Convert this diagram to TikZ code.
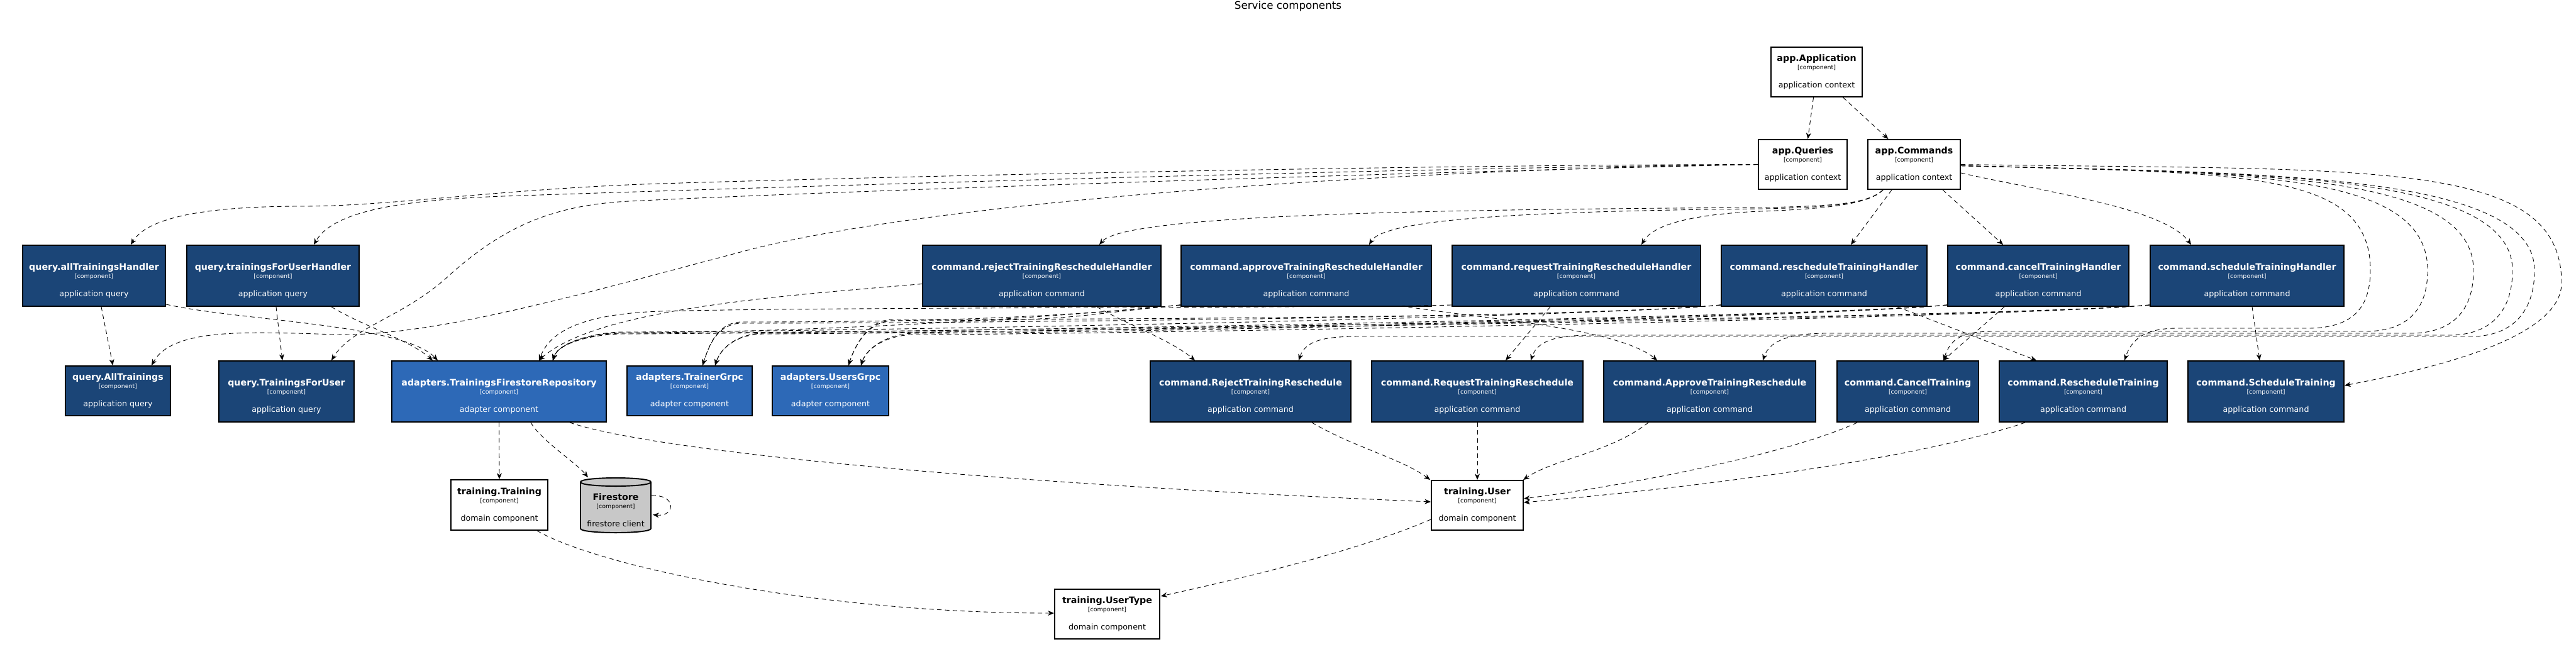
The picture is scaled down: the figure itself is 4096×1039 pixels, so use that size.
\documentclass[tikz,border=0pt]{standalone}
\usepackage{fontspec}
\setmainfont{DejaVu Sans}
\usetikzlibrary{
    arrows.meta,
    calc
}

\definecolor{handlerblue}{HTML}{1B4577}
\definecolor{adapterblue}{HTML}{2D69B7}
\definecolor{storegray}{HTML}{C8C8C8}

\newcommand{\namefont}{\fontsize{8.1}{9}\bfseries}
\newcommand{\tagfont}{\fontsize{5.4}{6}\selectfont}
% text of a low box and of a tall box
\newcommand{\comp}[2]{{\namefont #1}\\{\tagfont [component]}\\[9pt]#2}
\newcommand{\compt}[2]{{\namefont\rule{0pt}{15pt}#1}\\{\tagfont [component]}\\[9pt]#2}

\begin{document}
\begin{tikzpicture}[x=0.02cm, y=-0.02cm,
    compbox/.style={draw=black, line width=1.1pt, inner sep=0pt, align=center,
        font=\fontsize{7.2}{7.5}\selectfont},
    ctx/.style={compbox, fill=white},
    handler/.style={compbox, fill=handlerblue, text=white},
    adapter/.style={compbox, fill=adapterblue, text=white},
    dep/.style={dashed, dash pattern=on 4pt off 3pt, line width=0.5pt,
        -{Stealth[length=5.5pt,width=4.5pt,inset=1.6pt]}}
]

\useasboundingbox (0,0) rectangle (4096,1039);

% Title
\node[font=\fontsize{9.5}{11}\selectfont] (title) at (2048,10) {Service components};

% Application context
\node[ctx, minimum width=2.90cm, minimum height=1.58cm] (appctx) at (2888.5,114.5) {\comp{app.Application}{application context}};
\node[ctx, minimum width=2.82cm, minimum height=1.58cm] (queries) at (2866.5,261.5) {\comp{app.Queries}{application context}};
\node[ctx, minimum width=2.94cm, minimum height=1.58cm] (commands) at (3043.5,261.5) {\comp{app.Commands}{application context}};

% Query handlers
\node[handler, minimum width=4.54cm, minimum height=1.94cm] (qAllH) at (149.5,438.5) {\compt{query.allTrainingsHandler}{application query}};
\node[handler, minimum width=5.48cm, minimum height=1.94cm] (qForUserH) at (434,438.5) {\compt{query.trainingsForUserHandler}{application query}};

% Command handlers
\node[handler, minimum width=7.58cm, minimum height=1.94cm] (rejH) at (1656.5,438.5) {\compt{command.rejectTrainingRescheduleHandler}{application command}};
\node[handler, minimum width=7.96cm, minimum height=1.94cm] (apprH) at (2077,438.5) {\compt{command.approveTrainingRescheduleHandler}{application command}};
\node[handler, minimum width=7.90cm, minimum height=1.94cm] (reqH) at (2506.5,438.5) {\compt{command.requestTrainingRescheduleHandler}{application command}};
\node[handler, minimum width=6.54cm, minimum height=1.94cm] (reschH) at (2900.5,438.5) {\compt{command.rescheduleTrainingHandler}{application command}};
\node[handler, minimum width=5.76cm, minimum height=1.94cm] (cancelH) at (3241,438.5) {\compt{command.cancelTrainingHandler}{application command}};
\node[handler, minimum width=6.16cm, minimum height=1.94cm] (schedH) at (3573,438.5) {\compt{command.scheduleTrainingHandler}{application command}};

% Queries
\node[handler, minimum width=3.34cm, minimum height=1.58cm] (qAll) at (187.5,621.5) {\comp{query.AllTrainings}{application query}};
\node[handler, minimum width=4.30cm, minimum height=1.94cm] (qForUser) at (455.5,622.5) {\compt{query.TrainingsForUser}{application query}};

% Adapters
\node[adapter, minimum width=6.82cm, minimum height=1.94cm] (repo) at (793.5,622.5) {\compt{adapters.TrainingsFirestoreRepository}{adapter component}};
\node[adapter, minimum width=3.98cm, minimum height=1.58cm] (trainer) at (1096.5,621.5) {\comp{adapters.TrainerGrpc}{adapter component}};
\node[adapter, minimum width=3.70cm, minimum height=1.58cm] (users) at (1320.5,621.5) {\comp{adapters.UsersGrpc}{adapter component}};

% Commands
\node[handler, minimum width=6.38cm, minimum height=1.94cm] (rej) at (1988.5,622.5) {\compt{command.RejectTrainingReschedule}{application command}};
\node[handler, minimum width=6.72cm, minimum height=1.94cm] (req) at (2349,622.5) {\compt{command.RequestTrainingReschedule}{application command}};
\node[handler, minimum width=6.74cm, minimum height=1.94cm] (appr) at (2718.5,622.5) {\compt{command.ApproveTrainingReschedule}{application command}};
\node[handler, minimum width=4.50cm, minimum height=1.94cm] (cancel) at (3033.5,622.5) {\compt{command.CancelTraining}{application command}};
\node[handler, minimum width=5.34cm, minimum height=1.94cm] (resch) at (3312.5,622.5) {\compt{command.RescheduleTraining}{application command}};
\node[handler, minimum width=4.96cm, minimum height=1.94cm] (sched) at (3603,622.5) {\compt{command.ScheduleTraining}{application command}};

% Firestore cylinder
\draw[fill=storegray, line width=1.1pt] (923,766.5) -- (923,840.5)
    .. controls (923,849.2) and (1035,849.2) .. (1035,840.5) -- (1035,766.5)
    .. controls (1035,757.8) and (923,757.8) .. cycle;
\draw[line width=1.1pt] (923,766.5) .. controls (923,775.2) and (1035,775.2) .. (1035,766.5);
\node[compbox, draw=none, minimum width=2.24cm, minimum height=1.74cm] (fs) at (979,803.5) {\compt{Firestore}{firestore client}};

% Domain
\node[ctx, minimum width=3.08cm, minimum height=1.60cm] (training) at (794,803) {\comp{training.Training}{domain component}};
\node[ctx, minimum width=2.92cm, minimum height=1.58cm] (user) at (2349,803.5) {\comp{training.User}{domain component}};
\node[ctx, minimum width=3.34cm, minimum height=1.58cm] (userType) at (1760.5,976.5) {\comp{training.UserType}{domain component}};

% app.Application
\draw[dep] ($(appctx.south)+(-5,0)$) -- ($(queries.north)+(8,0)$);
\draw[dep] ($(appctx.south)+(42,0)$) -- ($(commands.north)+(-41,0)$);

% app.Queries
\draw[dep] (queries.west) .. controls (2300,262) and (1500,278) .. (1050,292)
    .. controls (800,300) and (620,328) .. (480,328)
    .. controls (330,328) and (235,345) .. ($(qAllH.north)+(58.5,0)$);
\draw[dep] (queries.west) .. controls (2200,268) and (1300,295) .. (800,312)
    .. controls (640,318) and (530,335) .. ($(qForUserH.north)+(65,0)$);
\draw[dep] (queries.west) .. controls (2200,270) and (1500,320) .. (1200,395)
    .. controls (950,460) and (700,535) .. (536,532)
    .. controls (400,528) and (275,520) .. ($(qAll.north)+(53.5,0)$);
\draw[dep] (queries.west) .. controls (2200,275) and (1300,305) .. (1000,320)
    .. controls (880,326) and (800,360) .. (712,440)
    .. controls (640,505) and (560,520) .. ($(qForUser.north)+(71.5,0)$);

% Query handlers
\draw[dep] ($(qAllH.south)+(11.5,0)$) -- ($(qAll.north)+(-8,0)$);
\draw[dep] ($(qAllH.south east)+(0,-4)$) .. controls (380,510) and (640,515) .. ($(repo.north)+(-97.5,0)$);
\draw[dep] ($(qForUserH.south)+(5,0)$) -- ($(qForUser.north)+(-6.5,0)$);
\draw[dep] ($(qForUserH.south)+(93,0)$) .. controls (580,520) and (650,540) .. ($(repo.north)+(-105.5,0)$);

% app.Commands to handlers
\draw[dep] ($(commands.south west)+(25,0)$) .. controls (2970,326) and (2900,328) .. (2800,330)
    .. controls (2300,333) and (1790,340) .. ($(rejH.north)+(91.5,0)$);
\draw[dep] ($(commands.south west)+(25,0)$) .. controls (2970,326) and (2900,330) .. (2800,332)
    .. controls (2400,336) and (2200,350) .. ($(apprH.north)+(100,0)$);
\draw[dep] ($(commands.south west)+(25,0)$) .. controls (2970,326) and (2900,332) .. (2800,336)
    .. controls (2700,340) and (2630,355) .. ($(reqH.north)+(103.5,0)$);
\draw[dep] ($(commands.south)+(-35.5,0)$) -- ($(reschH.north)+(42.5,0)$);
\draw[dep] ($(commands.south)+(45.5,0)$) -- ($(cancelH.north)+(-56,0)$);
\draw[dep] ($(commands.east)+(0,13.5)$) .. controls (3250,305) and (3440,330) .. ($(schedH.north)+(-89,0)$);

% app.Commands to commands, round the right side
\foreach \tgt/\dx/\lx/\ax/\yb in {resch/65.5/3769/3462/522, cancel/56.5/3860/3170/527,
    appr/84.5/3933/2905/530, req/85/3995/2534/533, rej/76.5/4030/2165/535}
  \draw[dep] ($(commands.east)+(0,2)$) .. controls +(450,12) and +(0,-160) .. (\lx,430)
      .. controls +(0,70) and +(60,0) .. (\lx-100,\yb) -- (\ax,\yb)
      .. controls +(-50,0) and +(12,-35) .. ($(\tgt.north)+(\dx,0)$);
\draw[dep] (commands.east) .. controls +(650,10) and +(0,-200) .. (4073,450)
    .. controls +(0,90) and +(130,-25) .. ($(sched.east)+(0,-9.5)$);

% Handlers to commands
\draw[dep] ($(rejH.south)+(87.5,0)$) .. controls (1790,515) and (1860,540) .. ($(rej.north)+(-88.5,0)$);
\draw[dep] ($(apprH.south)+(162,0)$) .. controls (2340,505) and (2570,520) .. ($(appr.north)+(-83.5,0)$);
\draw[dep] ($(reqH.south)+(-41.5,0)$) -- ($(req.north)+(45,0)$);
\draw[dep] ($(reschH.south)+(116.5,0)$) -- ($(resch.north)+(-74.5,0)$);
\draw[dep] ($(cancelH.south)+(-54,0)$) -- ($(cancel.north)+(56.5,0)$);
\draw[dep] ($(schedH.south)+(8,0)$) -- ($(sched.north)+(-10,0)$);

% Handlers to adapters
\draw[dep] ($(rejH.west)+(0,13)$) .. controls (1250,470) and (950,490) .. ($(repo.north)+(63.5,0)$);
\draw[dep] ($(reqH.south west)+(0,-3)$) .. controls (2150,490) and (1300,488) .. (1050,495)
    .. controls (900,500) and (870,540) .. ($(repo.north)+(63.5,0)$);
\foreach \h/\tgt/\dx/\wx/\yb in {apprH/repo/85.5/990/529, reschH/repo/85.5/990/528,
    cancelH/repo/85.5/990/531, schedH/repo/85.5/990/530,
    apprH/trainer/20.5/1180/512, reschH/trainer/20.5/1180/514,
    cancelH/trainer/40.5/1215/531, schedH/trainer/40.5/1215/530,
    apprH/users/28.5/1420/510, reschH/users/28.5/1420/508,
    cancelH/users/48.5/1455/530, schedH/users/48.5/1455/532}
  \draw[dep] ($(\h.south west)+(0,-3)$) .. controls +(-200,20) and +(300,0) .. (\wx,\yb)
      .. controls +(-40,0) and +(10,-30) .. ($(\tgt.north)+(\dx,0)$);

% Repository and domain
\draw[dep] (repo.south) -- (training.north);
\draw[dep] ($(repo.south)+(50.5,0)$) .. controls (860,700) and (915,735) .. ($(fs.north)+(-44,0)$);
\draw[dep] ($(repo.south)+(112.5,0)$) .. controls (1050,720) and (1600,770) .. ($(user.west)+(0,-5.5)$);
\draw[dep] ($(fs.east)+(0,-15)$) .. controls (1075,785) and (1075,822) .. ($(fs.east)+(2,15)$);
\draw[dep] ($(training.south)+(60,0)$) .. controls (950,900) and (1300,975) .. ($(userType.west)+(0,-1.5)$);
\draw[dep] ($(user.west)+(0,22.5)$) .. controls (2150,880) and (1950,925) .. ($(userType.north east)+(1,12)$);
\draw[dep] ($(rej.south)+(97.5,0)$) .. controls (2150,710) and (2230,730) .. ($(user.north)+(-75,0)$);
\draw[dep] (req.south) -- (user.north);
\draw[dep] ($(appr.south)+(-97.5,0)$) .. controls (2560,720) and (2470,730) .. ($(user.north)+(73,0)$);
\draw[dep] ($(cancel.south)+(-80.5,0)$) .. controls (2850,720) and (2600,770) .. ($(user.east)+(0,-10.5)$);
\draw[dep] ($(resch.south)+(-92.5,0)$) .. controls (3050,730) and (2700,775) .. ($(user.east)+(0,-4.5)$);

\end{tikzpicture}
\end{document}
